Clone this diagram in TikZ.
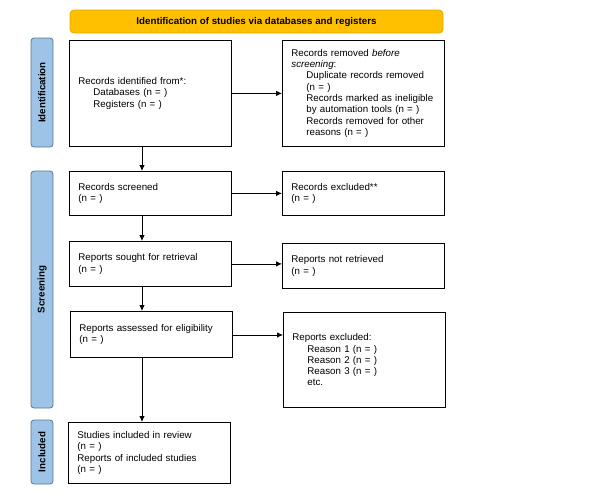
\documentclass[tikz,border=0pt]{standalone}
\usepackage{fontspec}
\setmainfont{Liberation Sans}
\usetikzlibrary{arrows.meta,calc}
\definecolor{bannerfill}{HTML}{FFC000}
\definecolor{bannerdraw}{HTML}{E0A800}
\definecolor{sidefill}{HTML}{9DC3E6}
\definecolor{sidedraw}{HTML}{5A7896}
\begin{document}
\begin{tikzpicture}[x=1pt,y=-1pt,
  font=\fontsize{9.75}{11.3}\selectfont,
  box/.style={draw, line width=0.8pt, anchor=north west, inner xsep=9pt, inner ysep=0pt,
    text width=144pt, align=left, minimum height=#1},
  side/.style={draw=sidedraw, fill=sidefill, line width=0.8pt, rounded corners=3pt,
    rotate=90, minimum height=22pt, minimum width=#1, inner sep=0pt, font=\fontsize{9.75}{11.3}\selectfont\bfseries},
  arr/.style={-{Latex[length=6pt,width=5.5pt]}, line width=0.8pt}]
\useasboundingbox (0,0) rectangle (599,498);
\newcommand{\ind}{\hspace*{15pt}}
% banner
\node[draw=bannerdraw, fill=bannerfill, rounded corners=4pt, line width=0.8pt,
  minimum width=373pt, minimum height=23pt, inner sep=0pt, font=\fontsize{9.75}{11.3}\selectfont\bfseries]
  (banner) at (256.5,21.5) {Identification of studies via databases and registers};
% side labels
\node[side=109pt] (sid) at (42,92.5) {Identification};
\node[side=237pt] (sscr) at (42,289.5) {Screening};
\node[side=64pt] (sinc) at (42,452) {Included};
% boxes
\node[box=106pt] (id) at (69,40) {Records identified from*:\\ \ind Databases (n = )\\ \ind Registers (n = )};
\node[box=106pt] (removed) at (282,40) {Records removed \emph{before screening}:\\ \ind Duplicate records removed\\ \ind (n = )\\ \ind Records marked as ineligible\\ \ind by automation tools (n = )\\ \ind Records removed for other\\ \ind reasons (n = )};
\node[box=44pt] (screened) at (69,171) {Records screened\\ (n = )};
\node[box=44pt] (excluded) at (282,171) {Records excluded**\\ (n = )};
\node[box=45pt] (sought) at (69,241) {Reports sought for retrieval\\ (n = )};
\node[box=45pt] (notret) at (282,243) {Reports not retrieved\\ (n = )};
\node[box=46pt] (assessed) at (70,311) {Reports assessed for eligibility\\ (n = )};
\node[box=95pt] (repexcl) at (283,312) {Reports excluded:\\ \ind Reason 1 (n = )\\ \ind Reason 2 (n = )\\ \ind Reason 3 (n = )\\ \ind etc.};
\node[box=61pt] (included) at (68,422) {Studies included in review\\ (n = )\\ Reports of included studies\\ (n = )};
% arrows
\coordinate (col) at (142,0);
\draw[arr] (id.south -| col) -- (screened.north -| col);
\draw[arr] (screened.south -| col) -- (sought.north -| col);
\draw[arr] (sought.south -| col) -- (assessed.north -| col);
\draw[arr] (assessed.south -| col) -- (included.north -| col);
\draw[arr] (id.east) -- (removed.west);
\draw[arr] (screened.east) -- (screened.east -| excluded.west);
\draw[arr] (sought.east) -- (sought.east -| notret.west);
\coordinate (a4) at (0,335);
\draw[arr] (assessed.east |- a4) -- (repexcl.west |- a4);
\end{tikzpicture}
\end{document}
